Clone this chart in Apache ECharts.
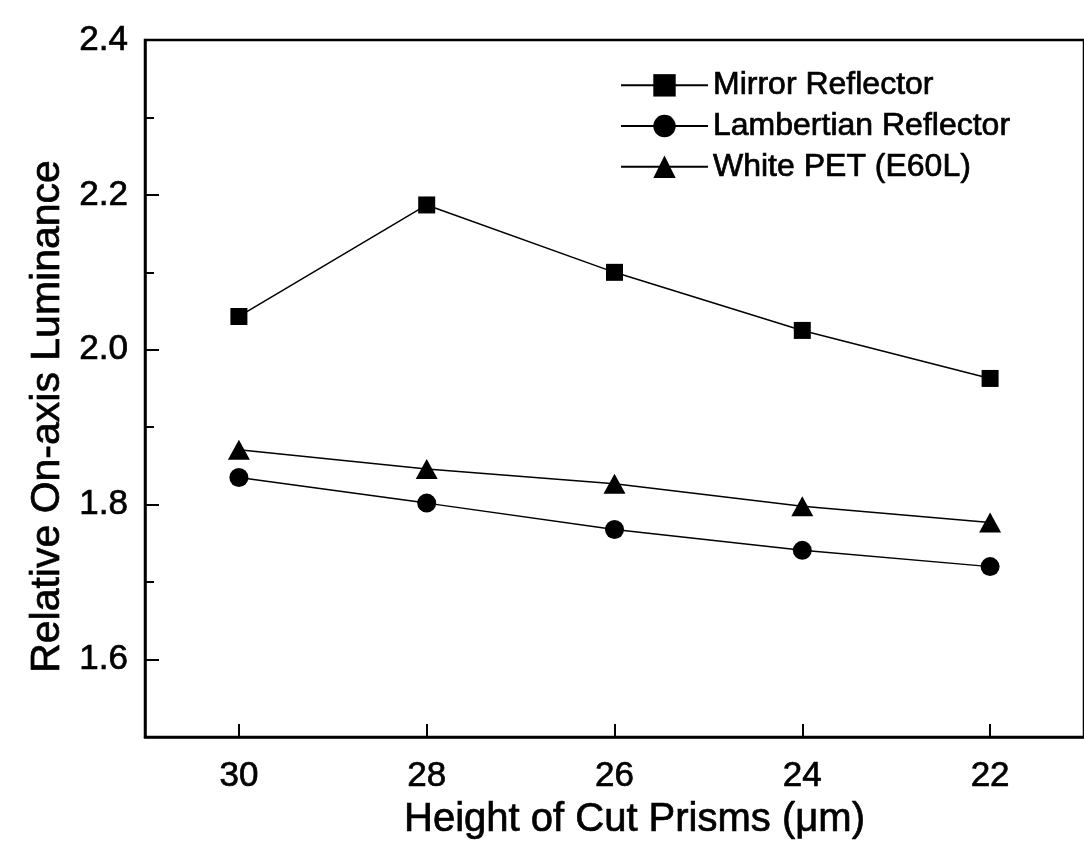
<!DOCTYPE html>
<html>
<head>
<meta charset="utf-8">
<script src="https://cdn.jsdelivr.net/npm/echarts@6/dist/echarts.min.js"></script>
<style>
  html, body { margin: 0; padding: 0; background: #fff; }
  #chart { width: 1084px; height: 850px; }
</style>
</head>
<body>
<div id="chart"></div>
<script>
  // prism heights (um), x axis runs from 31 down to 21
  const heights = [30, 28, 26, 24, 22]
  const mirror = [2.043, 2.187, 2.100, 2.025, 1.963]
  const lambertian = [1.835, 1.802, 1.768, 1.741, 1.720]
  const whitePet = [1.871, 1.846, 1.827, 1.798, 1.777]
  const xTicks = [30, 28, 26, 24, 22]
  const yMajor = [1.6, 1.8, 2.0, 2.2, 2.4]
  const yMinor = [1.7, 1.9, 2.1, 2.3]

  const font = '"Liberation Sans", Arial, sans-serif'
  const pairs = (ys) => heights.map((h, i) => [h, ys[i]])
  // scanned print looks a bit heavier than plain regular weight
  const heavy = { textBorderColor: '#000', textBorderWidth: 0.7 }

  const myChart = echarts.init(document.getElementById('chart'))

  const lineBase = {
    type: 'line',
    color: '#000',
    lineStyle: { color: '#000', width: 1.5 },
    itemStyle: { color: '#000' },
    z: 3
  }

  const option = {
    animation: false,
    backgroundColor: '#fff',
    grid: {
      left: 145, top: 40, right: -4, bottom: 113,
      show: true, borderColor: '#000', borderWidth: 2.5
    },
    legend: {
      orient: 'vertical',
      left: 615, top: 64,
      itemWidth: 87, itemHeight: 28, itemGap: 8,
      textStyle: Object.assign({ fontFamily: font, fontSize: 32, color: '#000' }, heavy),
      data: ['Mirror Reflector', 'Lambertian Reflector', 'White PET (E60L)']
    },
    xAxis: {
      type: 'value', min: 21, max: 31, inverse: true,
      name: 'Height of Cut Prisms (\u03bcm)',
      nameLocation: 'middle', nameGap: 62,
      nameTextStyle: Object.assign({ fontFamily: font, fontSize: 40, color: '#000', padding: [0, 0, 0, 40] }, heavy),
      axisLine: { lineStyle: { color: '#000', width: 2.5 } },
      axisTick: { inside: true, length: 13, lineStyle: { color: '#000', width: 2 }, customValues: xTicks },
      axisLabel: Object.assign({ margin: 22, fontFamily: font, fontSize: 35, color: '#000', customValues: xTicks }, heavy),
      splitLine: { show: false }
    },
    yAxis: [
      {
        type: 'value', min: 1.5, max: 2.4,
        name: 'Relative On-axis Luminance',
        nameLocation: 'middle', nameGap: 70,
        nameTextStyle: Object.assign({ fontFamily: font, fontSize: 41, color: '#000', padding: [0, 56, 0, 0] }, heavy),
        axisLine: { lineStyle: { color: '#000', width: 2.5 } },
        axisTick: { inside: true, length: 14, lineStyle: { color: '#000', width: 2 }, customValues: yMajor },
        axisLabel: Object.assign({
          margin: 17, fontFamily: font, fontSize: 35, color: '#000', customValues: yMajor,
          formatter: (v) => v.toFixed(1)
        }, heavy),
        splitLine: { show: false }
      },
      {
        type: 'value', min: 1.5, max: 2.4, position: 'left',
        axisLine: { show: false },
        axisTick: { inside: true, length: 9, lineStyle: { color: '#000', width: 2 }, customValues: yMinor },
        axisLabel: { show: false },
        splitLine: { show: false }
      }
    ],
    series: [
      Object.assign({}, lineBase, { name: 'Mirror Reflector', symbol: 'rect', symbolSize: 17, data: pairs(mirror) }),
      Object.assign({}, lineBase, { name: 'Lambertian Reflector', symbol: 'circle', symbolSize: 19, data: pairs(lambertian) }),
      Object.assign({}, lineBase, { name: 'White PET (E60L)', symbol: 'triangle', symbolSize: [22, 20], data: pairs(whitePet) })
    ]
  }

  myChart.setOption(option)
</script>
</body>
</html>
